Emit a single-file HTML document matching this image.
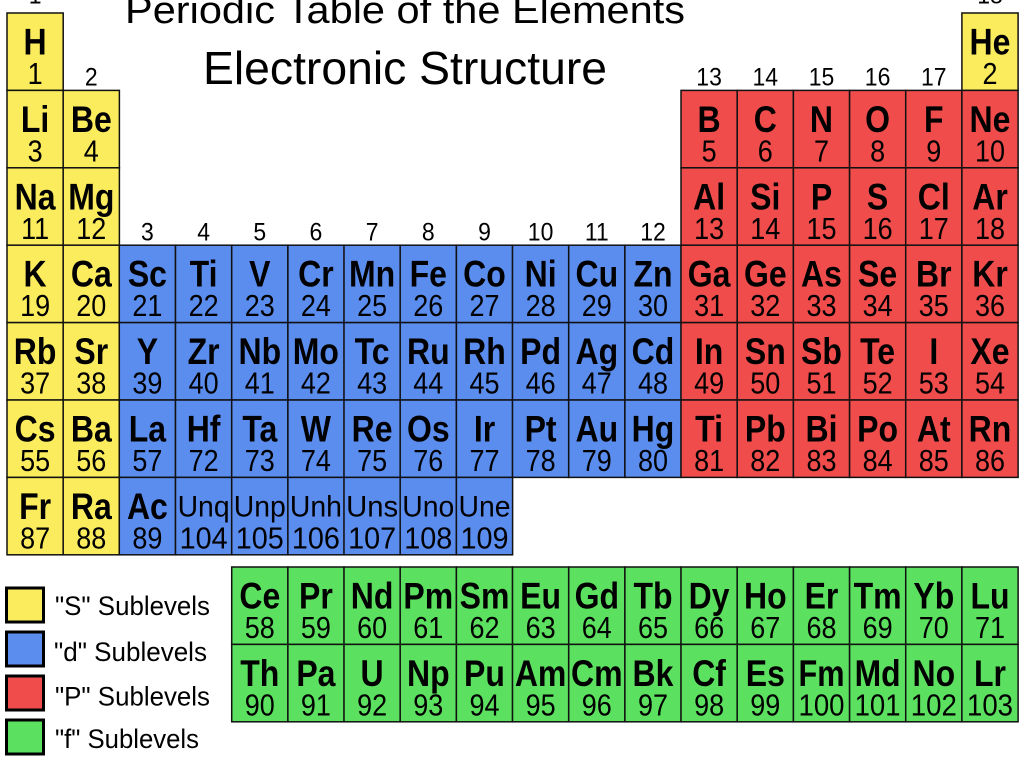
<!DOCTYPE html>
<html><head><meta charset="utf-8"><style>
html,body{margin:0;padding:0;background:#fff;width:1024px;height:768px;overflow:hidden}
svg{display:block}
text{font-family:"Liberation Sans",Arial,sans-serif;fill:#000}
.s,.n,.u,.lg,.gl{transform-box:fill-box;transform-origin:center}
.s{font-weight:bold;font-size:32px;text-anchor:middle;transform:scaleY(1.15)}
.u{font-size:26px;text-anchor:middle;transform:scaleY(1.15)}
.n{font-size:27px;text-anchor:middle;transform:scaleY(1.12)}
.gl{font-size:23px;text-anchor:middle;transform:scaleY(1.1)}
.lg{font-size:24px;transform:scaleY(1.1)}
rect.c{stroke:#111;stroke-width:1.5;width:56.2px;height:77.4px}
.Y{fill:#fbec5d}.B{fill:#5b8def}.R{fill:#f04c4c}.G{fill:#5ce05f}
</style></head><body>
<svg width="1024" height="768" viewBox="0 0 1024 768" xmlns="http://www.w3.org/2000/svg">
<text x="405" y="23" font-size="38" text-anchor="middle" textLength="560" lengthAdjust="spacingAndGlyphs">Periodic Table of the Elements</text>
<text x="405" y="84" font-size="46" text-anchor="middle" textLength="404" lengthAdjust="spacingAndGlyphs">Electronic Structure</text>
<!-- group labels -->
<text class="gl" x="35.1" y="3">1</text>
<text class="gl" x="990" y="3">18</text>
<text class="gl" x="91.3" y="85">2</text>
<text class="gl" x="709.1" y="85">13</text><text class="gl" x="765.3" y="85">14</text><text class="gl" x="821.5" y="85">15</text><text class="gl" x="877.6" y="85">16</text><text class="gl" x="933.8" y="85">17</text>
<text class="gl" x="147.4" y="240">3</text><text class="gl" x="203.6" y="240">4</text><text class="gl" x="259.8" y="240">5</text><text class="gl" x="315.9" y="240">6</text><text class="gl" x="372.1" y="240">7</text><text class="gl" x="428.3" y="240">8</text><text class="gl" x="484.5" y="240">9</text><text class="gl" x="540.6" y="240">10</text><text class="gl" x="596.8" y="240">11</text><text class="gl" x="653" y="240">12</text>

<!-- Row 0 -->
<g transform="translate(0,13)">
<rect class="c Y" x="7" y="0"/><rect class="c Y" x="961.9" y="0"/>
<text class="s" x="35.1" y="40">H</text><text class="n" x="35.1" y="70">1</text>
<text class="s" x="990" y="40">He</text><text class="n" x="990" y="70">2</text>
</g>
<!-- Row 1 -->
<g transform="translate(0,90.4)">
<rect class="c Y" x="7"/><rect class="c Y" x="63.2"/>
<rect class="c R" x="681"/><rect class="c R" x="737.2"/><rect class="c R" x="793.4"/><rect class="c R" x="849.6"/><rect class="c R" x="905.7"/><rect class="c R" x="961.9"/>
<text class="s" x="35.1" y="40">Li</text><text class="n" x="35.1" y="70">3</text>
<text class="s" x="91.3" y="40">Be</text><text class="n" x="91.3" y="70">4</text>
<text class="s" x="709.1" y="40">B</text><text class="n" x="709.1" y="70">5</text>
<text class="s" x="765.3" y="40">C</text><text class="n" x="765.3" y="70">6</text>
<text class="s" x="821.5" y="40">N</text><text class="n" x="821.5" y="70">7</text>
<text class="s" x="877.6" y="40">O</text><text class="n" x="877.6" y="70">8</text>
<text class="s" x="933.8" y="40">F</text><text class="n" x="933.8" y="70">9</text>
<text class="s" x="990" y="40">Ne</text><text class="n" x="990" y="70">10</text>
</g>
<!-- Row 2 -->
<g transform="translate(0,167.8)">
<rect class="c Y" x="7"/><rect class="c Y" x="63.2"/>
<rect class="c R" x="681"/><rect class="c R" x="737.2"/><rect class="c R" x="793.4"/><rect class="c R" x="849.6"/><rect class="c R" x="905.7"/><rect class="c R" x="961.9"/>
<text class="s" x="35.1" y="40">Na</text><text class="n" x="35.1" y="70">11</text>
<text class="s" x="91.3" y="40">Mg</text><text class="n" x="91.3" y="70">12</text>
<text class="s" x="709.1" y="40">Al</text><text class="n" x="709.1" y="70">13</text>
<text class="s" x="765.3" y="40">Si</text><text class="n" x="765.3" y="70">14</text>
<text class="s" x="821.5" y="40">P</text><text class="n" x="821.5" y="70">15</text>
<text class="s" x="877.6" y="40">S</text><text class="n" x="877.6" y="70">16</text>
<text class="s" x="933.8" y="40">Cl</text><text class="n" x="933.8" y="70">17</text>
<text class="s" x="990" y="40">Ar</text><text class="n" x="990" y="70">18</text>
</g>
<!-- Row 3 -->
<g transform="translate(0,245.2)">
<rect class="c Y" x="7"/><rect class="c Y" x="63.2"/>
<rect class="c B" x="119.3"/><rect class="c B" x="175.5"/><rect class="c B" x="231.7"/><rect class="c B" x="287.9"/><rect class="c B" x="344"/><rect class="c B" x="400.2"/><rect class="c B" x="456.4"/><rect class="c B" x="512.5"/><rect class="c B" x="568.7"/><rect class="c B" x="624.9"/>
<rect class="c R" x="681"/><rect class="c R" x="737.2"/><rect class="c R" x="793.4"/><rect class="c R" x="849.6"/><rect class="c R" x="905.7"/><rect class="c R" x="961.9"/>
<text class="s" x="35.1" y="40">K</text><text class="n" x="35.1" y="70">19</text>
<text class="s" x="91.3" y="40">Ca</text><text class="n" x="91.3" y="70">20</text>
<text class="s" x="147.4" y="40">Sc</text><text class="n" x="147.4" y="70">21</text>
<text class="s" x="203.6" y="40">Ti</text><text class="n" x="203.6" y="70">22</text>
<text class="s" x="259.8" y="40">V</text><text class="n" x="259.8" y="70">23</text>
<text class="s" x="315.9" y="40">Cr</text><text class="n" x="315.9" y="70">24</text>
<text class="s" x="372.1" y="40">Mn</text><text class="n" x="372.1" y="70">25</text>
<text class="s" x="428.3" y="40">Fe</text><text class="n" x="428.3" y="70">26</text>
<text class="s" x="484.5" y="40">Co</text><text class="n" x="484.5" y="70">27</text>
<text class="s" x="540.6" y="40">Ni</text><text class="n" x="540.6" y="70">28</text>
<text class="s" x="596.8" y="40">Cu</text><text class="n" x="596.8" y="70">29</text>
<text class="s" x="653" y="40">Zn</text><text class="n" x="653" y="70">30</text>
<text class="s" x="709.1" y="40">Ga</text><text class="n" x="709.1" y="70">31</text>
<text class="s" x="765.3" y="40">Ge</text><text class="n" x="765.3" y="70">32</text>
<text class="s" x="821.5" y="40">As</text><text class="n" x="821.5" y="70">33</text>
<text class="s" x="877.6" y="40">Se</text><text class="n" x="877.6" y="70">34</text>
<text class="s" x="933.8" y="40">Br</text><text class="n" x="933.8" y="70">35</text>
<text class="s" x="990" y="40">Kr</text><text class="n" x="990" y="70">36</text>
</g>
<!-- Row 4 -->
<g transform="translate(0,322.6)">
<rect class="c Y" x="7"/><rect class="c Y" x="63.2"/>
<rect class="c B" x="119.3"/><rect class="c B" x="175.5"/><rect class="c B" x="231.7"/><rect class="c B" x="287.9"/><rect class="c B" x="344"/><rect class="c B" x="400.2"/><rect class="c B" x="456.4"/><rect class="c B" x="512.5"/><rect class="c B" x="568.7"/><rect class="c B" x="624.9"/>
<rect class="c R" x="681"/><rect class="c R" x="737.2"/><rect class="c R" x="793.4"/><rect class="c R" x="849.6"/><rect class="c R" x="905.7"/><rect class="c R" x="961.9"/>
<text class="s" x="35.1" y="40">Rb</text><text class="n" x="35.1" y="70">37</text>
<text class="s" x="91.3" y="40">Sr</text><text class="n" x="91.3" y="70">38</text>
<text class="s" x="147.4" y="40">Y</text><text class="n" x="147.4" y="70">39</text>
<text class="s" x="203.6" y="40">Zr</text><text class="n" x="203.6" y="70">40</text>
<text class="s" x="259.8" y="40">Nb</text><text class="n" x="259.8" y="70">41</text>
<text class="s" x="315.9" y="40">Mo</text><text class="n" x="315.9" y="70">42</text>
<text class="s" x="372.1" y="40">Tc</text><text class="n" x="372.1" y="70">43</text>
<text class="s" x="428.3" y="40">Ru</text><text class="n" x="428.3" y="70">44</text>
<text class="s" x="484.5" y="40">Rh</text><text class="n" x="484.5" y="70">45</text>
<text class="s" x="540.6" y="40">Pd</text><text class="n" x="540.6" y="70">46</text>
<text class="s" x="596.8" y="40">Ag</text><text class="n" x="596.8" y="70">47</text>
<text class="s" x="653" y="40">Cd</text><text class="n" x="653" y="70">48</text>
<text class="s" x="709.1" y="40">In</text><text class="n" x="709.1" y="70">49</text>
<text class="s" x="765.3" y="40">Sn</text><text class="n" x="765.3" y="70">50</text>
<text class="s" x="821.5" y="40">Sb</text><text class="n" x="821.5" y="70">51</text>
<text class="s" x="877.6" y="40">Te</text><text class="n" x="877.6" y="70">52</text>
<text class="s" x="933.8" y="40">I</text><text class="n" x="933.8" y="70">53</text>
<text class="s" x="990" y="40">Xe</text><text class="n" x="990" y="70">54</text>
</g>
<!-- Row 5 -->
<g transform="translate(0,400)">
<rect class="c Y" x="7"/><rect class="c Y" x="63.2"/>
<rect class="c B" x="119.3"/><rect class="c B" x="175.5"/><rect class="c B" x="231.7"/><rect class="c B" x="287.9"/><rect class="c B" x="344"/><rect class="c B" x="400.2"/><rect class="c B" x="456.4"/><rect class="c B" x="512.5"/><rect class="c B" x="568.7"/><rect class="c B" x="624.9"/>
<rect class="c R" x="681"/><rect class="c R" x="737.2"/><rect class="c R" x="793.4"/><rect class="c R" x="849.6"/><rect class="c R" x="905.7"/><rect class="c R" x="961.9"/>
<text class="s" x="35.1" y="40">Cs</text><text class="n" x="35.1" y="70">55</text>
<text class="s" x="91.3" y="40">Ba</text><text class="n" x="91.3" y="70">56</text>
<text class="s" x="147.4" y="40">La</text><text class="n" x="147.4" y="70">57</text>
<text class="s" x="203.6" y="40">Hf</text><text class="n" x="203.6" y="70">72</text>
<text class="s" x="259.8" y="40">Ta</text><text class="n" x="259.8" y="70">73</text>
<text class="s" x="315.9" y="40">W</text><text class="n" x="315.9" y="70">74</text>
<text class="s" x="372.1" y="40">Re</text><text class="n" x="372.1" y="70">75</text>
<text class="s" x="428.3" y="40">Os</text><text class="n" x="428.3" y="70">76</text>
<text class="s" x="484.5" y="40">Ir</text><text class="n" x="484.5" y="70">77</text>
<text class="s" x="540.6" y="40">Pt</text><text class="n" x="540.6" y="70">78</text>
<text class="s" x="596.8" y="40">Au</text><text class="n" x="596.8" y="70">79</text>
<text class="s" x="653" y="40">Hg</text><text class="n" x="653" y="70">80</text>
<text class="s" x="709.1" y="40">Ti</text><text class="n" x="709.1" y="70">81</text>
<text class="s" x="765.3" y="40">Pb</text><text class="n" x="765.3" y="70">82</text>
<text class="s" x="821.5" y="40">Bi</text><text class="n" x="821.5" y="70">83</text>
<text class="s" x="877.6" y="40">Po</text><text class="n" x="877.6" y="70">84</text>
<text class="s" x="933.8" y="40">At</text><text class="n" x="933.8" y="70">85</text>
<text class="s" x="990" y="40">Rn</text><text class="n" x="990" y="70">86</text>
</g>
<!-- Row 6 -->
<g transform="translate(0,477.4)">
<rect class="c Y" x="7"/><rect class="c Y" x="63.2"/>
<rect class="c B" x="119.3"/><rect class="c B" x="175.5"/><rect class="c B" x="231.7"/><rect class="c B" x="287.9"/><rect class="c B" x="344"/><rect class="c B" x="400.2"/><rect class="c B" x="456.4"/>
<text class="s" x="35.1" y="40">Fr</text><text class="n" x="35.1" y="70">87</text>
<text class="s" x="91.3" y="40">Ra</text><text class="n" x="91.3" y="70">88</text>
<text class="s" x="147.4" y="40">Ac</text><text class="n" x="147.4" y="70">89</text>
<text class="u" x="203.6" y="38" textLength="52" lengthAdjust="spacingAndGlyphs">Unq</text><text class="n" x="203.6" y="70" textLength="48" lengthAdjust="spacingAndGlyphs">104</text>
<text class="u" x="259.8" y="38" textLength="52" lengthAdjust="spacingAndGlyphs">Unp</text><text class="n" x="259.8" y="70" textLength="48" lengthAdjust="spacingAndGlyphs">105</text>
<text class="u" x="315.9" y="38" textLength="52" lengthAdjust="spacingAndGlyphs">Unh</text><text class="n" x="315.9" y="70" textLength="48" lengthAdjust="spacingAndGlyphs">106</text>
<text class="u" x="372.1" y="38" textLength="52" lengthAdjust="spacingAndGlyphs">Uns</text><text class="n" x="372.1" y="70" textLength="48" lengthAdjust="spacingAndGlyphs">107</text>
<text class="u" x="428.3" y="38" textLength="52" lengthAdjust="spacingAndGlyphs">Uno</text><text class="n" x="428.3" y="70" textLength="48" lengthAdjust="spacingAndGlyphs">108</text>
<text class="u" x="484.5" y="38" textLength="52" lengthAdjust="spacingAndGlyphs">Une</text><text class="n" x="484.5" y="70" textLength="48" lengthAdjust="spacingAndGlyphs">109</text>
</g>
<!-- f row 1 -->
<g transform="translate(0,567)">
<rect class="c G" x="231.7"/><rect class="c G" x="287.9"/><rect class="c G" x="344"/><rect class="c G" x="400.2"/><rect class="c G" x="456.4"/><rect class="c G" x="512.5"/><rect class="c G" x="568.7"/><rect class="c G" x="624.9"/><rect class="c G" x="681"/><rect class="c G" x="737.2"/><rect class="c G" x="793.4"/><rect class="c G" x="849.6"/><rect class="c G" x="905.7"/><rect class="c G" x="961.9"/>
<text class="s" x="259.8" y="40">Ce</text><text class="n" x="259.8" y="70">58</text>
<text class="s" x="315.9" y="40">Pr</text><text class="n" x="315.9" y="70">59</text>
<text class="s" x="372.1" y="40">Nd</text><text class="n" x="372.1" y="70">60</text>
<text class="s" x="428.3" y="40">Pm</text><text class="n" x="428.3" y="70">61</text>
<text class="s" x="484.5" y="40">Sm</text><text class="n" x="484.5" y="70">62</text>
<text class="s" x="540.6" y="40">Eu</text><text class="n" x="540.6" y="70">63</text>
<text class="s" x="596.8" y="40">Gd</text><text class="n" x="596.8" y="70">64</text>
<text class="s" x="653" y="40">Tb</text><text class="n" x="653" y="70">65</text>
<text class="s" x="709.1" y="40">Dy</text><text class="n" x="709.1" y="70">66</text>
<text class="s" x="765.3" y="40">Ho</text><text class="n" x="765.3" y="70">67</text>
<text class="s" x="821.5" y="40">Er</text><text class="n" x="821.5" y="70">68</text>
<text class="s" x="877.6" y="40">Tm</text><text class="n" x="877.6" y="70">69</text>
<text class="s" x="933.8" y="40">Yb</text><text class="n" x="933.8" y="70">70</text>
<text class="s" x="990" y="40">Lu</text><text class="n" x="990" y="70">71</text>
</g>
<!-- f row 2 -->
<g transform="translate(0,644.4)">
<rect class="c G" x="231.7"/><rect class="c G" x="287.9"/><rect class="c G" x="344"/><rect class="c G" x="400.2"/><rect class="c G" x="456.4"/><rect class="c G" x="512.5"/><rect class="c G" x="568.7"/><rect class="c G" x="624.9"/><rect class="c G" x="681"/><rect class="c G" x="737.2"/><rect class="c G" x="793.4"/><rect class="c G" x="849.6"/><rect class="c G" x="905.7"/><rect class="c G" x="961.9"/>
<text class="s" x="259.8" y="40">Th</text><text class="n" x="259.8" y="70">90</text>
<text class="s" x="315.9" y="40">Pa</text><text class="n" x="315.9" y="70">91</text>
<text class="s" x="372.1" y="40">U</text><text class="n" x="372.1" y="70">92</text>
<text class="s" x="428.3" y="40">Np</text><text class="n" x="428.3" y="70">93</text>
<text class="s" x="484.5" y="40">Pu</text><text class="n" x="484.5" y="70">94</text>
<text class="s" x="540.6" y="40">Am</text><text class="n" x="540.6" y="70">95</text>
<text class="s" x="596.8" y="40">Cm</text><text class="n" x="596.8" y="70">96</text>
<text class="s" x="653" y="40">Bk</text><text class="n" x="653" y="70">97</text>
<text class="s" x="709.1" y="40">Cf</text><text class="n" x="709.1" y="70">98</text>
<text class="s" x="765.3" y="40">Es</text><text class="n" x="765.3" y="70">99</text>
<text class="s" x="821.5" y="40" textLength="46" lengthAdjust="spacingAndGlyphs">Fm</text><text class="n" x="821.5" y="70" textLength="46" lengthAdjust="spacingAndGlyphs">100</text>
<text class="s" x="877.6" y="40" textLength="46" lengthAdjust="spacingAndGlyphs">Md</text><text class="n" x="877.6" y="70" textLength="46" lengthAdjust="spacingAndGlyphs">101</text>
<text class="s" x="933.8" y="40">No</text><text class="n" x="933.8" y="70" textLength="46" lengthAdjust="spacingAndGlyphs">102</text>
<text class="s" x="990" y="40">Lr</text><text class="n" x="990" y="70" textLength="46" lengthAdjust="spacingAndGlyphs">103</text>
</g>
<!-- legend -->
<rect x="6.5" y="588" width="37" height="34" fill="#fbec5d" stroke="#000" stroke-width="3"/>
<rect x="6.5" y="632" width="37" height="34" fill="#5b8def" stroke="#000" stroke-width="3"/>
<rect x="6.5" y="676" width="37" height="34" fill="#f04c4c" stroke="#000" stroke-width="3"/>
<rect x="6.5" y="720" width="37" height="34" fill="#5ce05f" stroke="#000" stroke-width="3"/>
<text class="lg" x="55" y="614" textLength="155" lengthAdjust="spacingAndGlyphs">"S" Sublevels</text>
<text class="lg" x="54" y="660" textLength="153" lengthAdjust="spacingAndGlyphs">"d" Sublevels</text>
<text class="lg" x="55" y="705" textLength="155" lengthAdjust="spacingAndGlyphs">"P" Sublevels</text>
<text class="lg" x="55" y="747" textLength="144" lengthAdjust="spacingAndGlyphs">"f" Sublevels</text>
</svg>
</body></html>
